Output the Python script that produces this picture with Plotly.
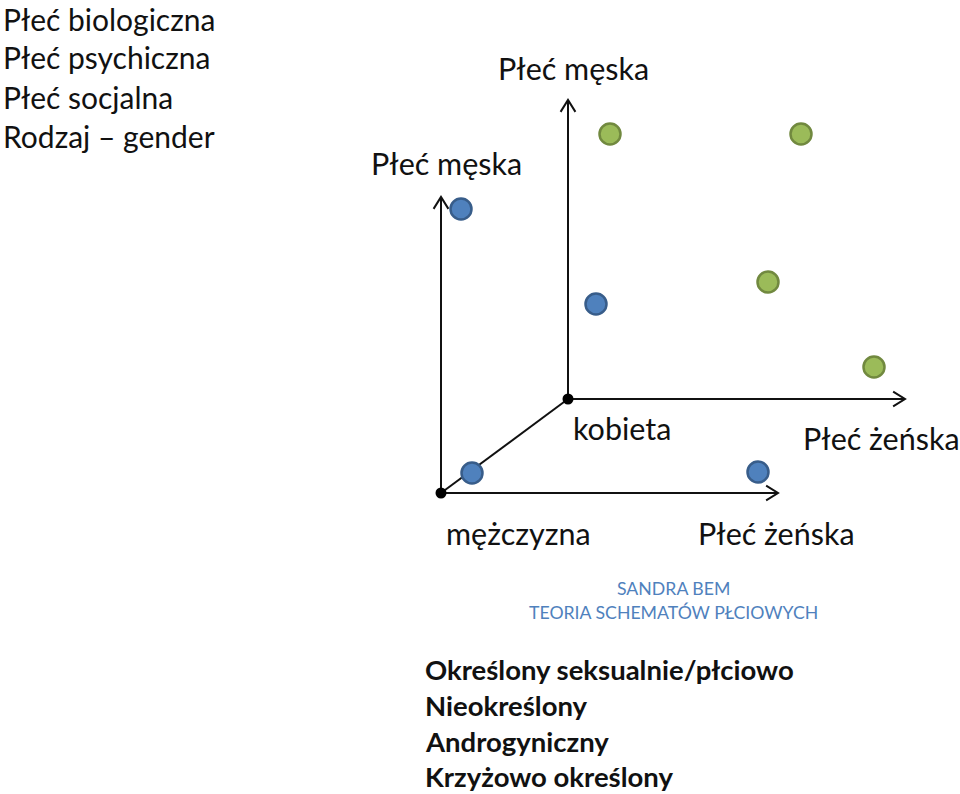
import plotly.graph_objects as go
import math

# ---- data (diagram coordinates, y grows downward) ----
men_x = [461, 596, 472, 758]
men_y = [209, 304, 473, 472]
women_x = [610, 801, 768, 874]
women_y = [134, 134, 282, 367]

# axes: (start_x, start_y, end_x, end_y, arrow)
axes_segments = [
    (441, 493, 441, 197, True),
    (441, 493, 778, 493, True),
    (441, 493, 568, 399, False),
    (568, 399, 568, 100, True),
    (568, 399, 905, 399, True),
]
origins_x = [441, 568]
origins_y = [493, 399]

left_terms = ["Płeć biologiczna", "Płeć psychiczna", "Płeć socjalna", "Rodzaj – gender"]
left_terms_y = [19, 57, 97, 136]
types_list = ["Określony seksualnie/płciowo", "Nieokreślony", "Androgyniczny", "Krzyżowo określony"]
types_y = [669, 705, 741, 776]

axis_labels = [
    ("Płeć męska", 446, 163),
    ("Płeć męska", 573, 68),
    ("kobieta", 622, 428),
    ("Płeć żeńska", 881, 438),
    ("mężczyzna", 518, 533),
    ("Płeć żeńska", 776, 533),
]

fig = go.Figure()

line_color = "#111111"
for (x0, y0, x1, y1, arrow) in axes_segments:
    fig.add_trace(go.Scatter(x=[x0, x1], y=[y0, y1], mode="lines",
                             line=dict(color=line_color, width=2), hoverinfo="skip", showlegend=False))
    if arrow:
        ang = math.atan2(y1 - y0, x1 - x0)
        L = 14
        spread = math.radians(32)
        ax1 = x1 - L * math.cos(ang - spread)
        ay1 = y1 - L * math.sin(ang - spread)
        ax2 = x1 - L * math.cos(ang + spread)
        ay2 = y1 - L * math.sin(ang + spread)
        fig.add_trace(go.Scatter(x=[ax1, x1, ax2], y=[ay1, y1, ay2], mode="lines",
                                 line=dict(color=line_color, width=2), hoverinfo="skip", showlegend=False))

fig.add_trace(go.Scatter(x=origins_x, y=origins_y, mode="markers",
                         marker=dict(size=11, color="#000000"), hoverinfo="skip", showlegend=False))

fig.add_trace(go.Scatter(x=men_x, y=men_y, mode="markers", name="mężczyzna",
                         marker=dict(size=21, color="#4f81bd", line=dict(color="#385d8a", width=2.5)),
                         showlegend=False))
fig.add_trace(go.Scatter(x=women_x, y=women_y, mode="markers", name="kobieta",
                         marker=dict(size=21, color="#9bbb59", line=dict(color="#71893f", width=2.5)),
                         showlegend=False))

font_reg = "Lato, 'Open Sans', sans-serif"
txt_color = "#111111"

for t, y in zip(left_terms, left_terms_y):
    fig.add_annotation(x=1, y=y, text=t, showarrow=False, xanchor="left", yanchor="middle",
                       font=dict(family=font_reg, size=30, color=txt_color))

for t, x, y in axis_labels:
    fig.add_annotation(x=x, y=y, text=t, showarrow=False, xanchor="center", yanchor="middle",
                       font=dict(family=font_reg, size=30.5, color=txt_color))

fig.add_annotation(x=673, y=588, text="SANDRA BEM", showarrow=False, xanchor="center", yanchor="middle",
                   font=dict(family=font_reg, size=17.7, color="#4f81bd"))
fig.add_annotation(x=673, y=612, text="TEORIA SCHEMATÓW PŁCIOWYCH", showarrow=False,
                   xanchor="center", yanchor="middle",
                   font=dict(family=font_reg, size=17.7, color="#4f81bd"))

for t, y in zip(types_list, types_y):
    fig.add_annotation(x=423, y=y, text="<b>" + t + "</b>", showarrow=False, xanchor="left", yanchor="middle",
                       font=dict(family=font_reg, size=27.5, color=txt_color))

fig.update_layout(
    width=960, height=794,
    margin=dict(l=0, r=0, t=0, b=0),
    paper_bgcolor="white", plot_bgcolor="white",
    xaxis=dict(range=[0, 960], visible=False, fixedrange=True),
    yaxis=dict(range=[794, 0], visible=False, fixedrange=True),
)

fig.write_html("out.html", config={"displayModeBar": False},
               post_script="document.body.style.margin='0';document.body.style.overflow='hidden';")
